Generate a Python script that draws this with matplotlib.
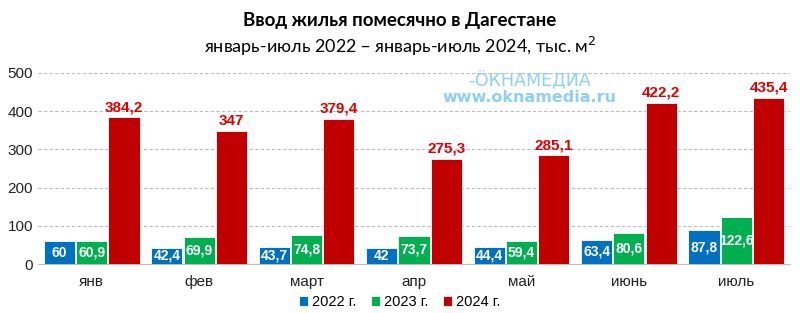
import matplotlib.pyplot as plt
import numpy as np

months = ['янв', 'фев', 'март', 'апр', 'май', 'июнь', 'июль']
y2022 = [60, 42.4, 43.7, 42, 44.4, 63.4, 87.8]
y2023 = [60.9, 69.9, 74.8, 73.7, 59.4, 80.6, 122.6]
y2024 = [384.2, 347, 379.4, 275.3, 285.1, 422.2, 435.4]
series = [('2022 г.', y2022, '#0070C0'), ('2023 г.', y2023, '#00B050'), ('2024 г.', y2024, '#C00000')]

def fmt(v):
    s = ('%.1f' % v).rstrip('0').rstrip('.')
    return s.replace('.', ',')

fig = plt.figure(figsize=(8, 3.13), dpi=100)
ax = fig.add_axes([0.0475, 0.1565, 0.94, 0.6105])

x = np.arange(len(months))
w = 0.29
for i, (name, vals, col) in enumerate(series):
    pos = x + (i - 1) * (w + 0.01)
    bars = ax.bar(pos, vals, w, color=col, edgecolor='white', linewidth=0.6, label=name, zorder=3)
    for b, v in zip(bars, vals):
        if i < 2:
            ax.text(b.get_x() + b.get_width() / 2, v / 2, fmt(v), ha='center', va='center',
                    color='white', fontsize=10, fontweight='bold', family='Liberation Sans', zorder=4)
        else:
            ax.text(b.get_x() + b.get_width() / 2, v + 8, fmt(v), ha='center', va='bottom',
                    color='#E00000', fontsize=11, fontweight='bold', family='Liberation Sans', zorder=4)

ax.set_xlim(-0.5, len(months) - 0.5)
ax.set_ylim(0, 500)
ax.set_yticks([0, 100, 200, 300, 400, 500])
ax.set_xticks(x)
ax.set_xticklabels(months)
ax.tick_params(axis='both', length=0, labelsize=11, colors='#222222')
ax.tick_params(axis='x', pad=8)
for lab in ax.get_xticklabels() + ax.get_yticklabels():
    lab.set_family('Liberation Sans')
ax.grid(axis='y', color='#BBBBBB', linestyle=(0, (3, 2)), linewidth=0.8, zorder=0)
for s in ['top', 'right', 'left']:
    ax.spines[s].set_visible(False)
ax.spines['bottom'].set_color('#BFBFBF')

fig.text(0.5, 0.935, 'Ввод жилья помесячно в Дагестане', ha='center', va='center',
         fontsize=13.5, fontweight='bold', family='Lato')
fig.text(0.5, 0.85, 'январь-июль 2022 – январь-июль 2024, тыс. м$^2$', ha='center', va='center',
         fontsize=13, family='Lato')

fig.text(0.662, 0.745, '-ÖКНАМЕДИА', ha='center', va='center', fontsize=12.5,
         color='#8ECFF5', family='DejaVu Sans', zorder=5)
fig.text(0.662, 0.687, 'www.oknamedia.ru', ha='center', va='center', fontsize=11.5, fontweight='bold',
         color='#8ECFF5', family='DejaVu Sans', zorder=5)

fig.legend(loc='center', bbox_to_anchor=(0.5, 0.035), ncol=3, frameon=False,
           handlelength=0.6, handleheight=0.6, handletextpad=0.3, columnspacing=1.0,
           prop={'family': 'Liberation Sans', 'size': 10.5})

fig.savefig('out.png', dpi=100)
